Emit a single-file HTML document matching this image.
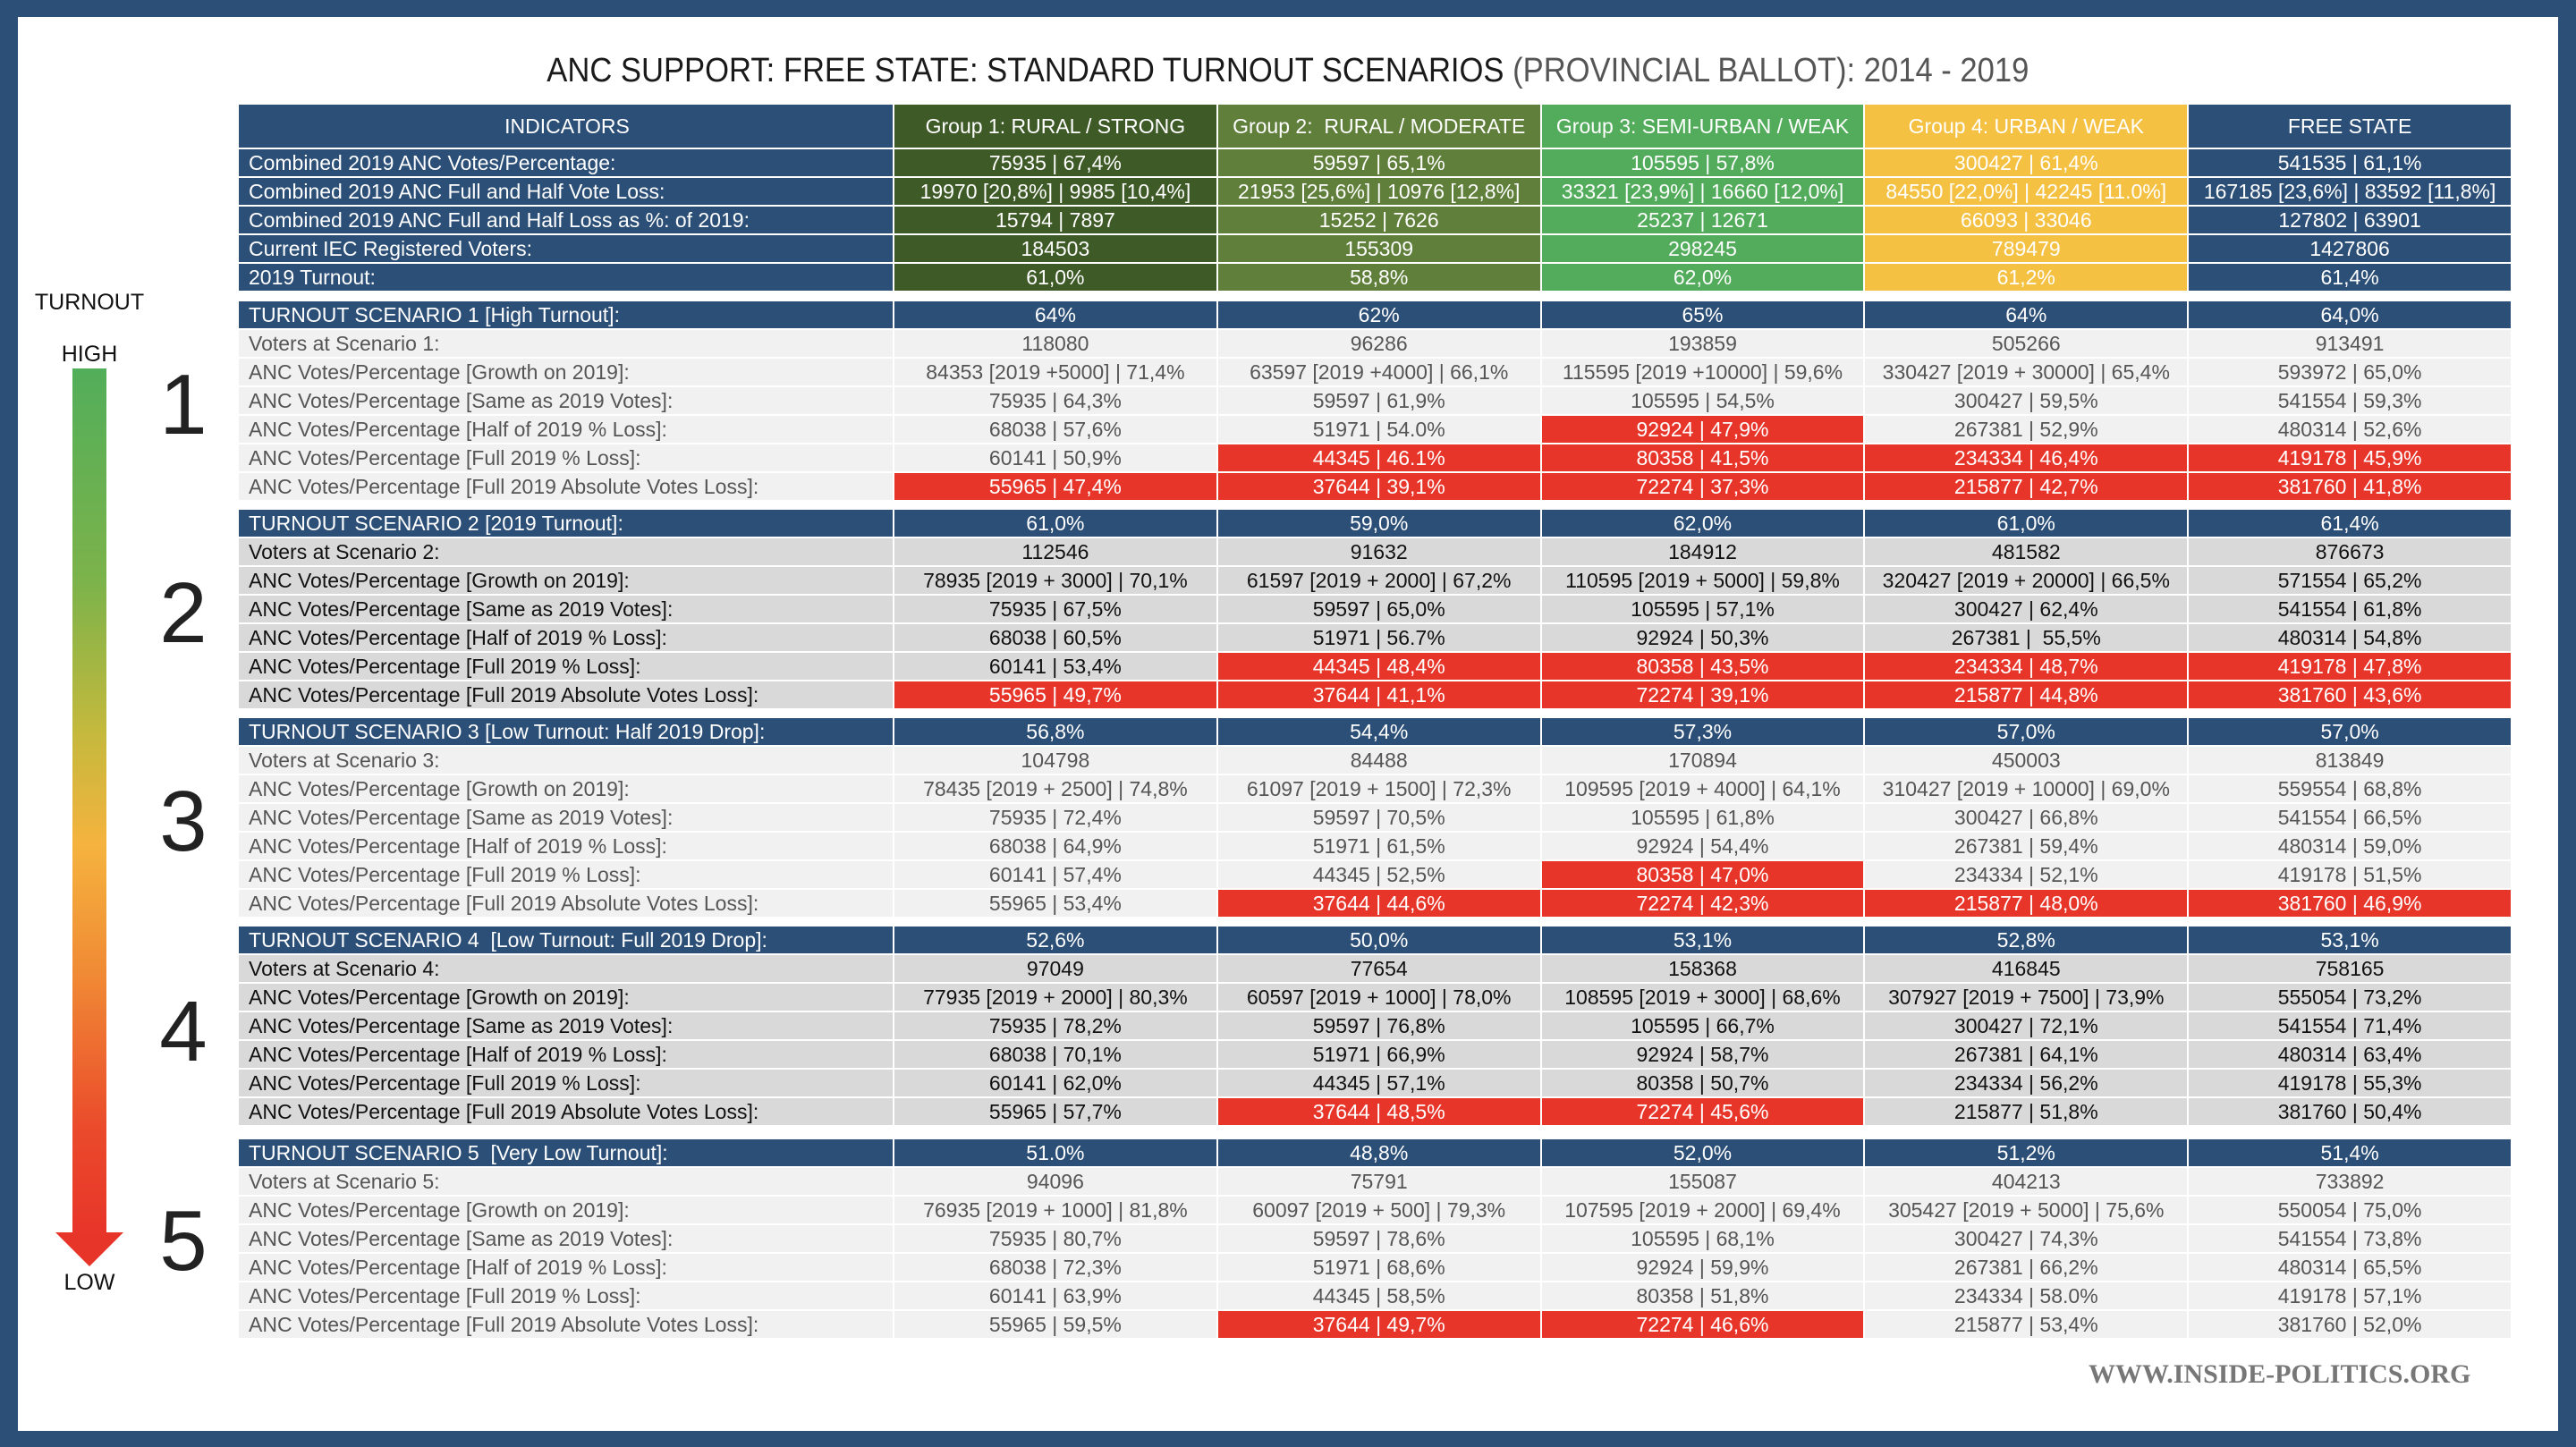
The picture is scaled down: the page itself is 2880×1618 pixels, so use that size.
<!DOCTYPE html>
<html><head><meta charset="utf-8">
<style>
*{margin:0;padding:0;box-sizing:border-box}
html,body{width:2880px;height:1618px;overflow:hidden;background:#2c4f77}
#page{position:absolute;left:20px;top:19px;width:2840px;height:1581px;background:#fff}
body{font-family:"Liberation Sans Narrow","Liberation Sans",sans-serif}
.title{position:absolute;left:0;width:2880px;top:58px;text-align:center;font-size:38px;color:#1a1a1a;white-space:nowrap;transform:scaleX(0.91);transform-origin:1438px 0}
.title span{color:#555}
table{position:absolute;left:265px;border-collapse:separate;border-spacing:2px;table-layout:fixed;width:2544px}
td{height:30px;padding:0 8px;font-size:23px;line-height:30px;text-align:center;white-space:nowrap;overflow:hidden}
td:first-child{text-align:left;padding-left:11px}
col.l{width:731px}
.h td{background:#2c4f77;color:#fff}
.hd td{height:48px}
.g1{background:#3e5a27!important;color:#fff}
.g2{background:#5f7f3b!important;color:#fff}
.g3{background:#52ac5b!important;color:#fff}
.g4{background:#f5c143!important;color:#fff}
.nv{background:#2c4f77!important;color:#fff}
.lt td{background:#f1f1f1;color:#555}
.dk td{background:#d9d9d9;color:#111}
td.r{background:#e8352a!important;color:#fff!important}
.num{position:absolute;font-size:96px;color:#222;width:60px;text-align:center;left:175px;line-height:1}
.lbl{position:absolute;font-size:25px;color:#111;width:140px;text-align:center;left:30px}
.bar{position:absolute;left:81px;top:412px;width:38px;height:968px;background:linear-gradient(#52ae5a 0%,#7db34a 25%,#c4b93d 42%,#f5b33e 55%,#f08a35 70%,#ea4a2b 88%,#e8352a 100%)}
.head{position:absolute;left:62px;top:1378px;width:0;height:0;border-left:38px solid transparent;border-right:38px solid transparent;border-top:38px solid #e8352a}
.foot{position:absolute;left:2335px;top:1520px;font-family:"Liberation Serif",serif;font-weight:bold;font-size:30px;color:#777;white-space:nowrap}
</style></head><body>
<div id="page"></div>
<div class="title">ANC SUPPORT: FREE STATE: STANDARD TURNOUT SCENARIOS <span>(PROVINCIAL BALLOT): 2014 - 2019</span></div>

<div class="lbl" style="top:324px">TURNOUT</div>
<div class="lbl" style="top:382px">HIGH</div>
<div class="bar"></div><div class="head"></div>
<div class="lbl" style="top:1420px">LOW</div>
<div class="num" style="top:405px">1</div>
<div class="num" style="top:638px">2</div>
<div class="num" style="top:871px">3</div>
<div class="num" style="top:1106px">4</div>
<div class="num" style="top:1340px">5</div>

<table style="top:115px"><colgroup><col class="l"><col><col><col><col><col></colgroup>
<tr class="h hd"><td style="text-align:center">INDICATORS</td><td class="g1">Group 1: RURAL / STRONG</td><td class="g2">Group 2:&nbsp; RURAL / MODERATE</td><td class="g3">Group 3: SEMI-URBAN / WEAK</td><td class="g4">Group 4: URBAN / WEAK</td><td class="nv">FREE STATE</td></tr>
<tr class="h"><td>Combined 2019 ANC Votes/Percentage:</td><td class="g1">75935 | 67,4%</td><td class="g2">59597 | 65,1%</td><td class="g3">105595 | 57,8%</td><td class="g4">300427 | 61,4%</td><td class="nv">541535 | 61,1%</td></tr>
<tr class="h"><td>Combined 2019 ANC Full and Half Vote Loss:</td><td class="g1">19970 [20,8%] | 9985 [10,4%]</td><td class="g2">21953 [25,6%] | 10976 [12,8%]</td><td class="g3">33321 [23,9%] | 16660 [12,0%]</td><td class="g4">84550 [22,0%] | 42245 [11.0%]</td><td class="nv">167185 [23,6%] | 83592 [11,8%]</td></tr>
<tr class="h"><td>Combined 2019 ANC Full and Half Loss as %: of 2019:</td><td class="g1">15794 | 7897</td><td class="g2">15252 | 7626</td><td class="g3">25237 | 12671</td><td class="g4">66093 | 33046</td><td class="nv">127802 | 63901</td></tr>
<tr class="h"><td>Current IEC Registered Voters:</td><td class="g1">184503</td><td class="g2">155309</td><td class="g3">298245</td><td class="g4">789479</td><td class="nv">1427806</td></tr>
<tr class="h"><td>2019 Turnout:</td><td class="g1">61,0%</td><td class="g2">58,8%</td><td class="g3">62,0%</td><td class="g4">61,2%</td><td class="nv">61,4%</td></tr>
</table>

<table style="top:335px"><colgroup><col class="l"><col><col><col><col><col></colgroup>
<tr class="h"><td>TURNOUT SCENARIO 1 [High Turnout]:</td><td>64%</td><td>62%</td><td>65%</td><td>64%</td><td>64,0%</td></tr>
<tr class="lt"><td>Voters at Scenario 1:</td><td>118080</td><td>96286</td><td>193859</td><td>505266</td><td>913491</td></tr>
<tr class="lt"><td>ANC Votes/Percentage [Growth on 2019]:</td><td>84353 [2019 +5000] | 71,4%</td><td>63597 [2019 +4000] | 66,1%</td><td>115595 [2019 +10000] | 59,6%</td><td>330427 [2019 + 30000] | 65,4%</td><td>593972 | 65,0%</td></tr>
<tr class="lt"><td>ANC Votes/Percentage [Same as 2019 Votes]:</td><td>75935 | 64,3%</td><td>59597 | 61,9%</td><td>105595 | 54,5%</td><td>300427 | 59,5%</td><td>541554 | 59,3%</td></tr>
<tr class="lt"><td>ANC Votes/Percentage [Half of 2019 % Loss]:</td><td>68038 | 57,6%</td><td>51971 | 54.0%</td><td class="r">92924 | 47,9%</td><td>267381 | 52,9%</td><td>480314 | 52,6%</td></tr>
<tr class="lt"><td>ANC Votes/Percentage [Full 2019 % Loss]:</td><td>60141 | 50,9%</td><td class="r">44345 | 46.1%</td><td class="r">80358 | 41,5%</td><td class="r">234334 | 46,4%</td><td class="r">419178 | 45,9%</td></tr>
<tr class="lt"><td>ANC Votes/Percentage [Full 2019 Absolute Votes Loss]:</td><td class="r">55965 | 47,4%</td><td class="r">37644 | 39,1%</td><td class="r">72274 | 37,3%</td><td class="r">215877 | 42,7%</td><td class="r">381760 | 41,8%</td></tr>
</table>

<table style="top:568px"><colgroup><col class="l"><col><col><col><col><col></colgroup>
<tr class="h"><td>TURNOUT SCENARIO 2 [2019 Turnout]:</td><td>61,0%</td><td>59,0%</td><td>62,0%</td><td>61,0%</td><td>61,4%</td></tr>
<tr class="dk"><td>Voters at Scenario 2:</td><td>112546</td><td>91632</td><td>184912</td><td>481582</td><td>876673</td></tr>
<tr class="dk"><td>ANC Votes/Percentage [Growth on 2019]:</td><td>78935 [2019 + 3000] | 70,1%</td><td>61597 [2019 + 2000] | 67,2%</td><td>110595 [2019 + 5000] | 59,8%</td><td>320427 [2019 + 20000] | 66,5%</td><td>571554 | 65,2%</td></tr>
<tr class="dk"><td>ANC Votes/Percentage [Same as 2019 Votes]:</td><td>75935 | 67,5%</td><td>59597 | 65,0%</td><td>105595 | 57,1%</td><td>300427 | 62,4%</td><td>541554 | 61,8%</td></tr>
<tr class="dk"><td>ANC Votes/Percentage [Half of 2019 % Loss]:</td><td>68038 | 60,5%</td><td>51971 | 56.7%</td><td>92924 | 50,3%</td><td>267381 |&nbsp; 55,5%</td><td>480314 | 54,8%</td></tr>
<tr class="dk"><td>ANC Votes/Percentage [Full 2019 % Loss]:</td><td>60141 | 53,4%</td><td class="r">44345 | 48,4%</td><td class="r">80358 | 43,5%</td><td class="r">234334 | 48,7%</td><td class="r">419178 | 47,8%</td></tr>
<tr class="dk"><td>ANC Votes/Percentage [Full 2019 Absolute Votes Loss]:</td><td class="r">55965 | 49,7%</td><td class="r">37644 | 41,1%</td><td class="r">72274 | 39,1%</td><td class="r">215877 | 44,8%</td><td class="r">381760 | 43,6%</td></tr>
</table>

<table style="top:801px"><colgroup><col class="l"><col><col><col><col><col></colgroup>
<tr class="h"><td>TURNOUT SCENARIO 3 [Low Turnout: Half 2019 Drop]:</td><td>56,8%</td><td>54,4%</td><td>57,3%</td><td>57,0%</td><td>57,0%</td></tr>
<tr class="lt"><td>Voters at Scenario 3:</td><td>104798</td><td>84488</td><td>170894</td><td>450003</td><td>813849</td></tr>
<tr class="lt"><td>ANC Votes/Percentage [Growth on 2019]:</td><td>78435 [2019 + 2500] | 74,8%</td><td>61097 [2019 + 1500] | 72,3%</td><td>109595 [2019 + 4000] | 64,1%</td><td>310427 [2019 + 10000] | 69,0%</td><td>559554 | 68,8%</td></tr>
<tr class="lt"><td>ANC Votes/Percentage [Same as 2019 Votes]:</td><td>75935 | 72,4%</td><td>59597 | 70,5%</td><td>105595 | 61,8%</td><td>300427 | 66,8%</td><td>541554 | 66,5%</td></tr>
<tr class="lt"><td>ANC Votes/Percentage [Half of 2019 % Loss]:</td><td>68038 | 64,9%</td><td>51971 | 61,5%</td><td>92924 | 54,4%</td><td>267381 | 59,4%</td><td>480314 | 59,0%</td></tr>
<tr class="lt"><td>ANC Votes/Percentage [Full 2019 % Loss]:</td><td>60141 | 57,4%</td><td>44345 | 52,5%</td><td class="r">80358 | 47,0%</td><td>234334 | 52,1%</td><td>419178 | 51,5%</td></tr>
<tr class="lt"><td>ANC Votes/Percentage [Full 2019 Absolute Votes Loss]:</td><td>55965 | 53,4%</td><td class="r">37644 | 44,6%</td><td class="r">72274 | 42,3%</td><td class="r">215877 | 48,0%</td><td class="r">381760 | 46,9%</td></tr>
</table>

<table style="top:1034px"><colgroup><col class="l"><col><col><col><col><col></colgroup>
<tr class="h"><td>TURNOUT SCENARIO 4&nbsp; [Low Turnout: Full 2019 Drop]:</td><td>52,6%</td><td>50,0%</td><td>53,1%</td><td>52,8%</td><td>53,1%</td></tr>
<tr class="dk"><td>Voters at Scenario 4:</td><td>97049</td><td>77654</td><td>158368</td><td>416845</td><td>758165</td></tr>
<tr class="dk"><td>ANC Votes/Percentage [Growth on 2019]:</td><td>77935 [2019 + 2000] | 80,3%</td><td>60597 [2019 + 1000] | 78,0%</td><td>108595 [2019 + 3000] | 68,6%</td><td>307927 [2019 + 7500] | 73,9%</td><td>555054 | 73,2%</td></tr>
<tr class="dk"><td>ANC Votes/Percentage [Same as 2019 Votes]:</td><td>75935 | 78,2%</td><td>59597 | 76,8%</td><td>105595 | 66,7%</td><td>300427 | 72,1%</td><td>541554 | 71,4%</td></tr>
<tr class="dk"><td>ANC Votes/Percentage [Half of 2019 % Loss]:</td><td>68038 | 70,1%</td><td>51971 | 66,9%</td><td>92924 | 58,7%</td><td>267381 | 64,1%</td><td>480314 | 63,4%</td></tr>
<tr class="dk"><td>ANC Votes/Percentage [Full 2019 % Loss]:</td><td>60141 | 62,0%</td><td>44345 | 57,1%</td><td>80358 | 50,7%</td><td>234334 | 56,2%</td><td>419178 | 55,3%</td></tr>
<tr class="dk"><td>ANC Votes/Percentage [Full 2019 Absolute Votes Loss]:</td><td>55965 | 57,7%</td><td class="r">37644 | 48,5%</td><td class="r">72274 | 45,6%</td><td>215877 | 51,8%</td><td>381760 | 50,4%</td></tr>
</table>

<table style="top:1272px"><colgroup><col class="l"><col><col><col><col><col></colgroup>
<tr class="h"><td>TURNOUT SCENARIO 5&nbsp; [Very Low Turnout]:</td><td>51.0%</td><td>48,8%</td><td>52,0%</td><td>51,2%</td><td>51,4%</td></tr>
<tr class="lt"><td>Voters at Scenario 5:</td><td>94096</td><td>75791</td><td>155087</td><td>404213</td><td>733892</td></tr>
<tr class="lt"><td>ANC Votes/Percentage [Growth on 2019]:</td><td>76935 [2019 + 1000] | 81,8%</td><td>60097 [2019 + 500] | 79,3%</td><td>107595 [2019 + 2000] | 69,4%</td><td>305427 [2019 + 5000] | 75,6%</td><td>550054 | 75,0%</td></tr>
<tr class="lt"><td>ANC Votes/Percentage [Same as 2019 Votes]:</td><td>75935 | 80,7%</td><td>59597 | 78,6%</td><td>105595 | 68,1%</td><td>300427 | 74,3%</td><td>541554 | 73,8%</td></tr>
<tr class="lt"><td>ANC Votes/Percentage [Half of 2019 % Loss]:</td><td>68038 | 72,3%</td><td>51971 | 68,6%</td><td>92924 | 59,9%</td><td>267381 | 66,2%</td><td>480314 | 65,5%</td></tr>
<tr class="lt"><td>ANC Votes/Percentage [Full 2019 % Loss]:</td><td>60141 | 63,9%</td><td>44345 | 58,5%</td><td>80358 | 51,8%</td><td>234334 | 58.0%</td><td>419178 | 57,1%</td></tr>
<tr class="lt"><td>ANC Votes/Percentage [Full 2019 Absolute Votes Loss]:</td><td>55965 | 59,5%</td><td class="r">37644 | 49,7%</td><td class="r">72274 | 46,6%</td><td>215877 | 53,4%</td><td>381760 | 52,0%</td></tr>
</table>

<div class="foot">WWW.INSIDE-POLITICS.ORG</div>
</body></html>
